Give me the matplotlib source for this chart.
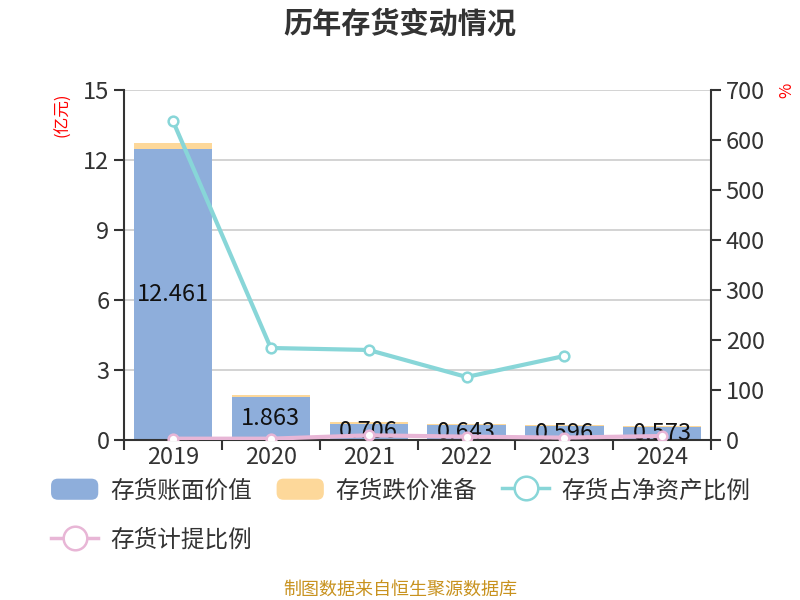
import matplotlib

matplotlib.use("Agg")
import matplotlib.pyplot as plt
from matplotlib.legend_handler import HandlerPatch
from matplotlib.lines import Line2D
from matplotlib.patches import FancyBboxPatch, Patch

plt.rcParams["font.family"] = ["Noto Sans CJK SC", "DejaVu Sans"]

years = ["2019", "2020", "2021", "2022", "2023", "2024"]
book_value = [12.461, 1.863, 0.706, 0.643, 0.596, 0.573]
impairment = [0.27, 0.05, 0.06, 0.045, 0.04, 0.04]
inv_to_equity = [638, 184, 180, 126, 168, None]
provision_ratio = [2.6, 2.6, 9.3, 6.7, 4.7, 8.0]

BLUE = "#8eaedb"
ORANGE = "#fdd89a"
CYAN = "#88d6d8"
PINK = "#e8b6d6"
TEXT = "#333333"


def _rounded_patch(legend, orig_handle, xdescent, ydescent, width, height, fontsize):
    return FancyBboxPatch((-xdescent, -ydescent), width, height,
                          boxstyle="round,pad=0,rounding_size=5")


fig = plt.figure(figsize=(8, 6), dpi=100)
ax = fig.add_axes([0.155, 0.2667, 0.734, 0.5833])
ax2 = ax.twinx()

x = list(range(len(years)))
ax.bar(x, book_value, width=0.8, color=BLUE, zorder=2)
ax.bar(x, impairment, width=0.8, bottom=book_value, color=ORANGE, zorder=2)
for xi, v in zip(x, book_value):
    ax.text(xi, v / 2, f"{v:.3f}", ha="center", va="center", fontsize=17, color="#111111", zorder=3)

ax.set_ylim(0, 15)
ax.set_yticks([0, 3, 6, 9, 12, 15])
ax.set_xlim(-0.5, len(years) - 0.5)
ax.set_xticks(x)
ax.set_xticklabels(years)
ax.set_xticks([i - 0.5 for i in range(len(years) + 1)], minor=True)
ax.tick_params(axis="x", which="major", length=0, labelsize=17, labelcolor=TEXT, pad=4)
ax.tick_params(axis="x", which="minor", length=7, width=1.5, color=TEXT)
ax.tick_params(axis="y", length=7, width=1.5, color=TEXT, labelsize=17, labelcolor=TEXT)
ax.grid(axis="y", color="#cccccc", linewidth=1.2, zorder=0)
ax.set_axisbelow(True)
for side in ["top", "right"]:
    ax.spines[side].set_visible(False)
ax.spines["left"].set_color(TEXT)
ax.spines["left"].set_linewidth(1.5)
ax.spines["bottom"].set_color(TEXT)
ax.spines["bottom"].set_linewidth(1.5)

cx = [i for i, v in zip(x, inv_to_equity) if v is not None]
cy = [v for v in inv_to_equity if v is not None]
ax2.plot(cx, cy, color=CYAN, linewidth=3, marker="o", markersize=7,
         markerfacecolor="white", markeredgecolor=CYAN, markeredgewidth=1.8, zorder=4)
ax2.plot(x, provision_ratio, color=PINK, linewidth=3, marker="o", markersize=7,
         markerfacecolor="white", markeredgecolor=PINK, markeredgewidth=1.8, zorder=4)
ax2.set_ylim(0, 700)
ax2.set_yticks(range(0, 701, 100))
ax2.tick_params(axis="y", length=7, width=1.5, color=TEXT, labelsize=17, labelcolor=TEXT)
for side in ["top", "left", "bottom"]:
    ax2.spines[side].set_visible(False)
ax2.spines["right"].set_color(TEXT)
ax2.spines["right"].set_linewidth(1.5)

fig.text(0.5, 0.96, "历年存货变动情况", ha="center", va="center", fontsize=21,
         fontweight="bold", color=TEXT)
fig.text(0.078, 0.808, "(亿元)", rotation=90, ha="center", va="center", fontsize=12, color="red")
fig.text(0.984, 0.85, "%", rotation=90, ha="center", va="center", fontsize=12, color="red")
fig.text(0.5, 0.018, "制图数据来自恒生聚源数据库", ha="center", va="center", fontsize=13,
         color="#c8921e")

blue_h = Patch(facecolor=BLUE, edgecolor="none", label="存货账面价值")
orange_h = Patch(facecolor=ORANGE, edgecolor="none", label="存货跌价准备")
cyan_h = Line2D([], [], color=CYAN, linewidth=2.5, marker="o", markersize=17,
                markerfacecolor="white", markeredgecolor=CYAN, markeredgewidth=1.8,
                label="存货占净资产比例")
pink_h = Line2D([], [], color=PINK, linewidth=2.5, marker="o", markersize=17,
                markerfacecolor="white", markeredgecolor=PINK, markeredgewidth=1.8,
                label="存货计提比例")
fig.legend(handles=[blue_h, pink_h, orange_h, cyan_h], loc="upper left",
           bbox_to_anchor=(0.052, 0.218), ncol=3, frameon=False, fontsize=17,
           labelcolor=TEXT, handlelength=2.0, handleheight=1.0, handletextpad=0.5,
           columnspacing=1.05, labelspacing=1.1, borderaxespad=0,
           handler_map={Patch: HandlerPatch(patch_func=_rounded_patch)})

fig.savefig("out.png", dpi=100)
